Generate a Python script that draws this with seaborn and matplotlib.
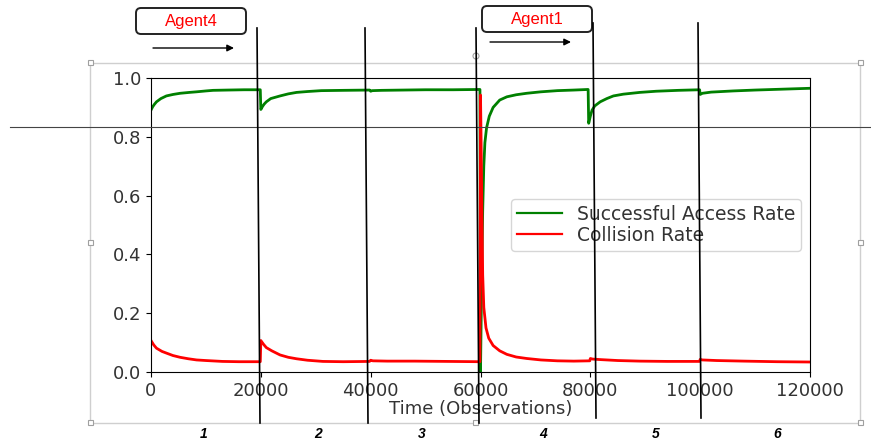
import matplotlib
matplotlib.use("Agg")
import matplotlib.pyplot as plt
from matplotlib.patches import FancyBboxPatch, Rectangle, Circle
import pandas as pd
import seaborn as sns

# Successful access rate over time (observations)
access_time = [0, 300, 600, 1000, 1800, 2800, 4000, 5300, 7000, 8300, 10000, 11300, 14000, 17000, 19900,
               20000, 20300, 20600, 21000, 21800, 23500, 25000, 26500, 28500, 31000, 35000, 39800,
               40000, 40300, 42000, 46000, 50000, 55000, 59900,
               60000, 60200, 60400, 60600, 60800, 61100, 61600, 62300, 63500, 64800, 66500, 68400, 71000, 74000, 77000, 79600,
               79700, 80000, 80300, 80800, 81800, 83000, 84200, 86000, 89000, 92000, 96000, 99900,
               100000, 100400, 102000, 106000, 110000, 115000, 120000]
access_rate = [0.891, 0.902, 0.910, 0.919, 0.930, 0.939, 0.944, 0.948, 0.951, 0.953, 0.956, 0.958, 0.959, 0.960, 0.960,
               0.893, 0.903, 0.911, 0.919, 0.930, 0.939, 0.946, 0.951, 0.954, 0.957, 0.958, 0.959,
               0.955, 0.957, 0.958, 0.959, 0.960, 0.960, 0.961,
               0.000, 0.300, 0.550, 0.700, 0.780, 0.830, 0.870, 0.900, 0.925, 0.936, 0.943, 0.948, 0.953, 0.957, 0.959, 0.961,
               0.846, 0.870, 0.890, 0.905, 0.919, 0.930, 0.939, 0.945, 0.951, 0.955, 0.958, 0.960,
               0.944, 0.948, 0.952, 0.956, 0.959, 0.962, 0.965]

# Collision rate over time (observations)
collision_time = [0, 500, 1000, 2000, 2850, 4000, 5300, 6800, 8300, 10000, 13000, 16000, 19900,
                  20000, 20500, 21000, 22000, 23500, 25000, 26500, 28500, 31300, 35000, 39800,
                  40000, 40400, 43000, 48000, 54000, 59900,
                  60000, 60100, 60250, 60400, 60600, 61000, 61500, 62300, 63500, 64800, 66500, 68400, 71000, 74000, 77000, 79900,
                  80000, 80400, 82000, 85000, 89000, 94000, 99900,
                  100000, 100400, 103000, 108000, 114000, 120000]
collision_rate = [0.107, 0.092, 0.081, 0.070, 0.064, 0.056, 0.050, 0.045, 0.041, 0.039, 0.036, 0.035, 0.035,
                  0.107, 0.094, 0.083, 0.072, 0.058, 0.050, 0.045, 0.040, 0.036, 0.035, 0.036,
                  0.040, 0.038, 0.037, 0.037, 0.036, 0.035,
                  0.942, 0.800, 0.550, 0.330, 0.220, 0.150, 0.115, 0.090, 0.072, 0.060, 0.051, 0.046, 0.041, 0.038, 0.037, 0.038,
                  0.046, 0.044, 0.042, 0.039, 0.037, 0.036, 0.036,
                  0.043, 0.041, 0.039, 0.037, 0.035, 0.034]

series_names = ["Successful Access Rate", "Collision Rate"]
series_colors = ["green", "red"]
x_ticks = [0, 20000, 40000, 60000, 80000, 100000, 120000]
y_ticks = [0.0, 0.2, 0.4, 0.6, 0.8, 1.0]
agent_labels = ["Agent4", "Agent1"]
phase_labels = ["1", "2", "3", "4", "5", "6"]

df = pd.concat([
    pd.DataFrame({"time": access_time, "rate": access_rate, "series": series_names[0]}),
    pd.DataFrame({"time": collision_time, "rate": collision_rate, "series": series_names[1]}),
], ignore_index=True)

fig = plt.figure(figsize=(8.71, 4.40), dpi=100)
fig.patch.set_facecolor("white")
ax = fig.add_axes([151 / 871, 68 / 440, 659 / 871, 294 / 440])

sns.lineplot(data=df, x="time", y="rate", hue="series", hue_order=series_names,
             palette=dict(zip(series_names, series_colors)), estimator=None, sort=False,
             linewidth=2, ax=ax)

text_color = "#333333"
ax.set_xlim(0, 120000)
ax.set_ylim(0, 1.0)
ax.set_xticks(x_ticks)
ax.set_yticks(y_ticks)
ax.tick_params(labelsize=13, labelcolor=text_color)
ax.set_xlabel("Time (Observations)", fontsize=13, labelpad=0, color=text_color)
ax.set_ylabel("")
handles, labels = ax.get_legend_handles_labels()
for h in handles:
    h.set_linewidth(1.6)
leg = ax.legend(handles, labels, loc="center right", fontsize=13.5, handlelength=2.4,
                labelspacing=0.1, borderpad=0.3, handletextpad=0.8)
for t in leg.get_texts():
    t.set_color(text_color)

# Overlay in pixel coordinates for the slide annotations
ov = fig.add_axes([0, 0, 1, 1], zorder=10)
ov.set_xlim(0, 871)
ov.set_ylim(440, 0)
ov.axis("off")
ov.patch.set_alpha(0)

# selection frame with handles
ov.add_patch(Rectangle((90, 63), 770, 360, fill=False, edgecolor="#cfcfcf", lw=1))
for hx, hy in [(90, 63), (860, 63), (90, 243), (860, 243), (90, 423), (475, 423), (860, 423)]:
    ov.add_patch(Rectangle((hx - 2.5, hy - 2.5), 5, 5, facecolor="white", edgecolor="#a0a0a0", lw=0.8))
ov.add_patch(Circle((476, 56), 3, facecolor="white", edgecolor="#a0a0a0", lw=0.8))

# horizontal guide line
ov.plot([10, 871], [127, 127], color="#444444", lw=0.8)

# phase separator lines
for (x0, y0, x1, y1) in [(257, 28, 260, 423), (365, 28, 368, 423), (476, 28, 479, 423),
                         (593, 23, 596, 418), (698, 23, 701, 418)]:
    ov.plot([x0, x1], [y0, y1], color="black", lw=1.2)

# agent boxes with arrows
for label, (bx, by), (ax0, ax1, ay) in zip(agent_labels, [(136, 8), (482, 6)],
                                           [(153, 234, 48), (490, 571, 42)]):
    ov.add_patch(FancyBboxPatch((bx, by), 110, 26, boxstyle="round,pad=0,rounding_size=5",
                                facecolor="white", edgecolor="#222222", lw=1.4))
    ov.text(bx + 55, by + 13.5, label, color="red", fontsize=12, family="Liberation Sans",
            ha="center", va="center")
    ov.annotate("", xy=(ax1, ay), xytext=(ax0, ay),
                arrowprops=dict(arrowstyle="-|>", color="black", lw=1, mutation_scale=10,
                                shrinkA=0, shrinkB=0))

# phase numbers
for label, px in zip(phase_labels, [204, 318, 422, 543, 656, 777]):
    ov.text(px, 434, label, fontsize=10, fontstyle="italic", fontweight="bold",
            family="Liberation Sans", ha="center", va="center")

fig.savefig("out.png", dpi=100, facecolor="white")
